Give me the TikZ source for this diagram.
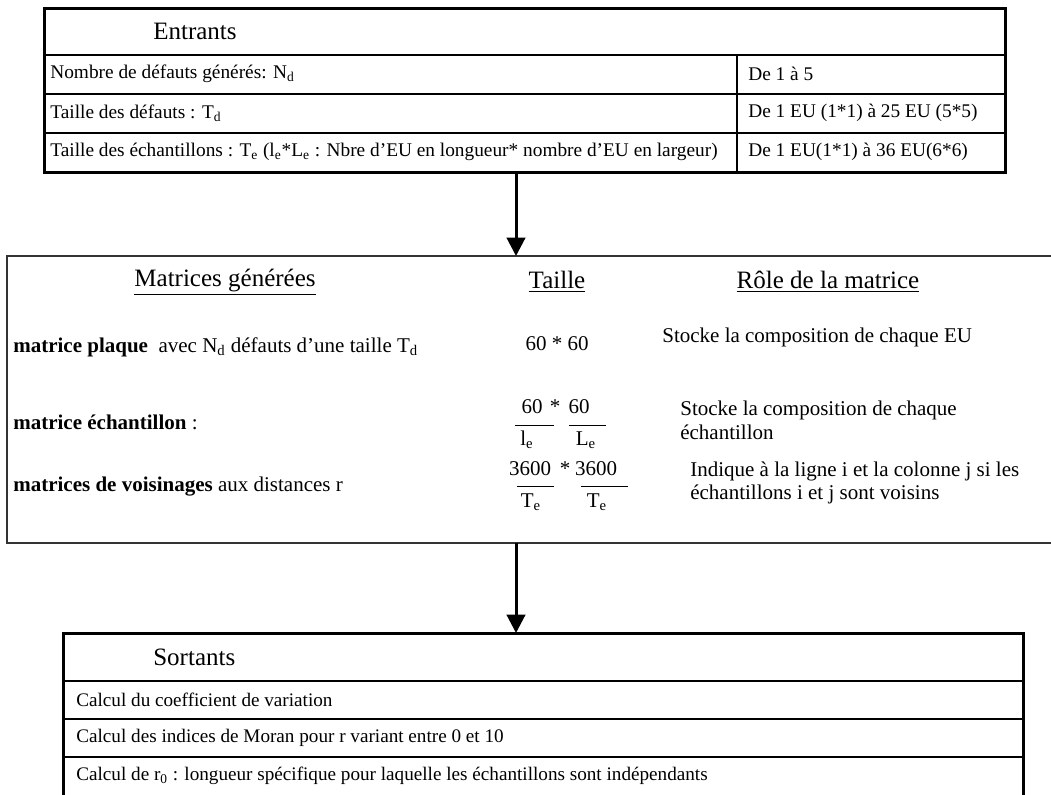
\documentclass[tikz,border=0pt]{standalone}
\usepackage{fontspec}
\setmainfont{Liberation Serif}
\usetikzlibrary{arrows.meta}
\begin{document}
\begin{tikzpicture}[x=0.6pt,y=-0.6pt,font=\fontsize{11.6}{14}\selectfont,
  cell/.style={anchor=west,inner sep=0pt},
  head/.style={anchor=west,inner sep=0pt,font=\fontsize{15}{17}\selectfont},
  mhead/.style={inner sep=0pt,font=\fontsize{15}{17}\selectfont},
  mcell/.style={anchor=west,inner sep=0pt,font=\fontsize{12.6}{14.2}\selectfont},
  mnum/.style={inner sep=0pt,font=\fontsize{12.6}{15}\selectfont},
  ocell/.style={anchor=west,inner sep=0pt,font=\fontsize{11.5}{14}\selectfont},
  flow/.style={line width=1.8pt,-{Triangle[length=11pt,width=11pt]}}]
\useasboundingbox (0,0) rectangle (1051,794);
% Entrants
\draw[line width=0.8pt] (44,55)--(1005,55) (44,94)--(1005,94) (44,133)--(1005,133) (737,55)--(737,172);
\draw[line width=1.8pt] (44,8) rectangle (1005,172);
\node[head] (inHead) at (153,31) {Entrants};
\node[cell] (nd) at (50,74) {Nombre de défauts générés: N\textsubscript{d}};
\node[cell] (td) at (50,113) {Taille des défauts : T\textsubscript{d}};
\node[cell] (te) at (50,152) {Taille des échantillons : T\textsubscript{e} (l\textsubscript{e}*L\textsubscript{e} : Nbre d’EU en longueur* nombre d’EU en largeur)};
\node[cell] (ndVal) at (748,74) {De 1 à 5};
\node[cell] (tdVal) at (748,113) {De 1 EU (1*1) à 25 EU (5*5)};
\node[cell] (teVal) at (748,152) {De 1 EU(1*1) à 36 EU(6*6)};
% Matrices
\draw[line width=0.8pt,black!80] (1051,256)--(7,256)--(7,543)--(1051,543);
\node[mhead] (colMat) at (225,282) {\underline{Matrices générées}};
\node[mhead] (colTaille) at (557,282) {\underline{Taille}};
\node[mhead] (colRole) at (828,282) {\underline{Rôle de la matrice}};
\node[mcell] (plaque) at (13,347) {\textbf{matrice plaque}\ \ avec N\textsubscript{d} défauts d’une taille T\textsubscript{d}};
\node[mnum] (plaqueT) at (557,344) {60 * 60};
\node[mcell] (plaqueR) at (662,337) {Stocke la composition de chaque EU};
\node[mcell] (ech) at (13,422) {\textbf{matrice échantillon} :};
\node[mnum] (echA) at (532,407) {60}; \node[mnum] (echX) at (555,407) {*}; \node[mnum] (echB) at (579,407) {60};
\draw[line width=0.6pt] (515,425)--(554,425); \draw[line width=0.6pt] (569,425)--(606,425);
\node[mnum] (echC) at (527,440) {l\textsubscript{e}}; \node[mnum] (echD) at (586,440) {L\textsubscript{e}};
\node[mcell,align=left] (echR) at (680,420) {Stocke la composition de chaque\\échantillon};
\node[mcell] (vois) at (13,487) {\textbf{matrices de voisinages} aux distances r};
\node[mnum] (voisA) at (530,469) {3600}; \node[mnum] (voisX) at (565,469) {*}; \node[mnum] (voisB) at (596,469) {3600};
\draw[line width=0.6pt] (517,486)--(554,486); \draw[line width=0.6pt] (581,486)--(628,486);
\node[mnum] (voisC) at (531,502) {T\textsubscript{e}}; \node[mnum] (voisD) at (597,502) {T\textsubscript{e}};
\node[mcell,align=left] (voisR) at (690,483) {Indique à la ligne i et la colonne j si les\\échantillons i et j sont voisins};
% Sortants
\draw[line width=0.8pt] (63,681)--(1023,681) (63,719)--(1023,719) (63,757)--(1023,757);
\draw[line width=1.8pt] (63,800)--(63,633)--(1023,633)--(1023,800);
\node[head] (outHead) at (153,657) {Sortants};
\node[ocell] (cv) at (76,700) {Calcul du coefficient de variation};
\node[ocell] (moran) at (76,738) {Calcul des indices de Moran pour r variant entre 0 et 10};
\node[ocell] (rzero) at (76,776) {Calcul de r\textsubscript{0} : longueur spécifique pour laquelle les échantillons sont indépendants};
% fleches
\coordinate (inBot) at (516,172); \coordinate (matTop) at (516,256);
\coordinate (matBot) at (516,543); \coordinate (outTop) at (516,633);
\draw[flow] (inBot)--(matTop); \draw[flow] (matBot)--(outTop);
\end{tikzpicture}
\end{document}
